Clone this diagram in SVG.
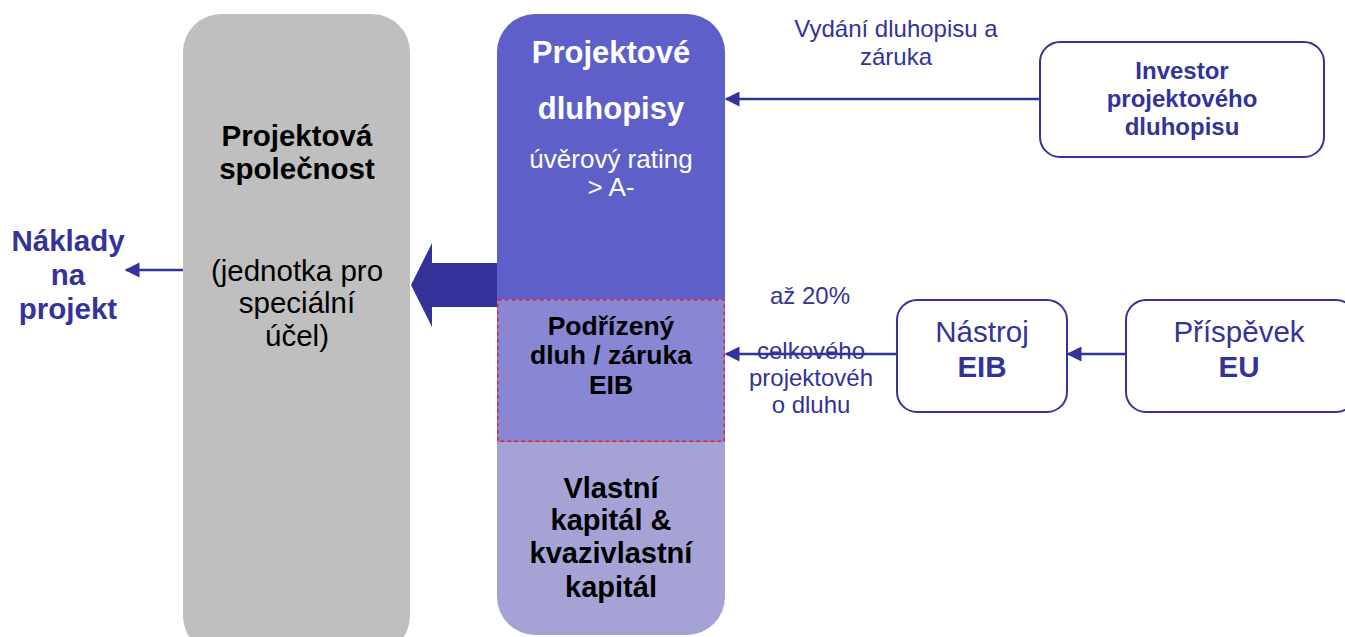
<svg xmlns="http://www.w3.org/2000/svg" width="1345" height="637" viewBox="0 0 1345 637">
<style>
text{font-family:"Liberation Sans",Arial,sans-serif;text-anchor:middle}
.b{font-weight:bold}
.navy{fill:#333399}
.blk{fill:#000}
.wht{fill:#fff}
.box{fill:#fff;stroke:#333399;stroke-width:2}
.ln{stroke:#333399;stroke-width:2.5;fill:none}
</style>
<defs>
<marker id="ah" viewBox="0 0 10 10" refX="9" refY="5" markerWidth="16" markerHeight="15" markerUnits="userSpaceOnUse" orient="auto">
<path d="M0,0 L10,5 L0,10 z" fill="#333399"/>
</marker>
<clipPath id="colclip"><rect x="497" y="14" width="228" height="621" rx="38"/></clipPath>
</defs>
<rect width="1345" height="637" fill="#fff"/>

<g id="spv">
<rect x="183" y="14" width="227" height="640" rx="38" fill="#BFBFBF"/>
<text class="b blk" x="297" y="146" font-size="29.5">Projektová</text>
<text class="b blk" x="297" y="179" font-size="29.5">společnost</text>
<text class="blk" x="297" y="281" font-size="29.5">(jednotka pro</text>
<text class="blk" x="297" y="313" font-size="29.5">speciální</text>
<text class="blk" x="297" y="346" font-size="29.5">účel)</text>
</g>

<g id="column">
<g clip-path="url(#colclip)">
<rect x="497" y="14" width="228" height="285" fill="#5E5FC8"/>
<rect x="497" y="299" width="228" height="143" fill="#8987D4"/>
<rect x="497" y="442" width="228" height="200" fill="#A5A3D6"/>
</g>
<rect x="497.75" y="299.75" width="226.5" height="141.5" fill="none" stroke="#E8202A" stroke-width="1.5" stroke-dasharray="4,3"/>
<text class="b wht" x="611" y="63" font-size="31">Projektové</text>
<text class="b wht" x="611" y="119" font-size="31">dluhopisy</text>
<text class="wht" x="611" y="168" font-size="26">úvěrový rating</text>
<text class="wht" x="611" y="196" font-size="26">&gt; A-</text>
<text class="b blk" x="611" y="335" font-size="26.5">Podřízený</text>
<text class="b blk" x="611" y="364" font-size="26.5">dluh / záruka</text>
<text class="b blk" x="611" y="394" font-size="26.5">EIB</text>
<text class="b blk" x="611" y="498" font-size="29">Vlastní</text>
<text class="b blk" x="611" y="530" font-size="29">kapitál &amp;</text>
<text class="b blk" x="611" y="563" font-size="29">kvazivlastní</text>
<text class="b blk" x="611" y="597" font-size="29">kapitál</text>
</g>

<g id="costs">
<text class="b navy" x="68" y="251" font-size="29.5">Náklady</text>
<text class="b navy" x="68" y="285" font-size="29.5">na</text>
<text class="b navy" x="68" y="319" font-size="29.5">projekt</text>
</g>

<g id="investor">
<rect class="box" x="1040" y="42" width="284" height="115" rx="20"/>
<text class="b navy" x="1182" y="79" font-size="24">Investor</text>
<text class="b navy" x="1182" y="107" font-size="24">projektového</text>
<text class="b navy" x="1182" y="135" font-size="24">dluhopisu</text>
</g>

<g id="nastroj">
<rect class="box" x="897" y="300" width="170" height="112" rx="20"/>
<text class="navy" x="982" y="342" font-size="29.5">Nástroj</text>
<text class="b navy" x="982" y="377" font-size="29.5">EIB</text>
</g>

<g id="prispevek">
<rect class="box" x="1126" y="300" width="230" height="112" rx="20"/>
<text class="navy" x="1239" y="342" font-size="29.5">Příspěvek</text>
<text class="b navy" x="1239" y="377" font-size="29.5">EU</text>
</g>

<g id="connectors">
<path d="M497,263 L432,263 L432,243 L411,285 L432,327 L432,307 L497,307 z" fill="#333399"/>
<line class="ln" x1="183" y1="270" x2="126" y2="270" marker-end="url(#ah)"/>
<line class="ln" x1="1040" y1="99" x2="726" y2="99" marker-end="url(#ah)"/>
<line class="ln" x1="897" y1="354" x2="726" y2="354" marker-end="url(#ah)"/>
<line class="ln" x1="1126" y1="354" x2="1068" y2="354" marker-end="url(#ah)"/>
</g>

<g id="labels">
<text class="navy" x="896" y="37" font-size="24">Vydání dluhopisu a</text>
<text class="navy" x="896" y="65" font-size="24">záruka</text>
<text class="navy" x="810" y="304" font-size="24">až 20%</text>
<text class="navy" x="811" y="359" font-size="24">celkového</text>
<text class="navy" x="811" y="386" font-size="24">projektovéh</text>
<text class="navy" x="811" y="413" font-size="24">o dluhu</text>
</g>
</svg>
